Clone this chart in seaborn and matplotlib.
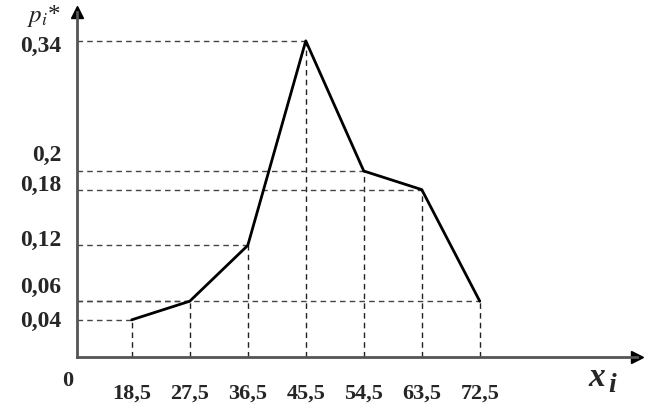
import numpy as np
import pandas as pd
import seaborn as sns
import matplotlib.pyplot as plt

# polygon of relative frequencies
x_mid = [18.5, 27.5, 36.5, 45.5, 54.5, 63.5, 72.5]
p_rel = [0.04, 0.06, 0.12, 0.34, 0.20, 0.18, 0.06]
x_labels = ["18,5", "27,5", "36,5", "45,5", "54,5", "63,5", "72,5"]
y_ticks = [0.04, 0.06, 0.12, 0.18, 0.2, 0.34]
y_labels = ["0,04", "0,06", "0,12", "0,18", "0,2", "0,34"]
# small vertical nudges (points) so the close labels don't collide
y_nudge = [-1, 10, 3.5, 3, 11.5, -4]

sns.set_style("white")
plt.rcParams['font.family'] = ['Liberation Serif', 'DejaVu Serif']
plt.rcParams['mathtext.fontset'] = 'stix'

df = pd.DataFrame({"x": x_mid, "p": p_rel})

fig = plt.figure(figsize=(6.46, 4.12), dpi=100)
ax = fig.add_axes([77 / 646, (412 - 357) / 412, (637 - 77) / 646, (357 - 12) / 412])

x0, x1 = 10, 96.9
ax.set_xlim(x0, x1)
ax.set_ylim(0, 0.371)

# dashed guide lines
ax.vlines(df["x"], 0, df["p"], colors="#222222", linestyles=(0, (4, 3)), linewidth=1.0)
ax.hlines(df["p"], x0, df["x"], colors="#444444", linestyles=(0, (4, 3)), linewidth=1.0)

sns.lineplot(data=df, x="x", y="p", color="black", linewidth=2.0, ax=ax, sort=False)

for s in ["top", "right"]:
    ax.spines[s].set_visible(False)
for s in ["left", "bottom"]:
    ax.spines[s].set_color("#555555")
    ax.spines[s].set_linewidth(2.0)

# axis arrows
ax.plot(1, 0, ">", color="black", markersize=9, transform=ax.transAxes, clip_on=False)
ax.plot(0, 1, "^", color="black", markersize=9, transform=ax.transAxes, clip_on=False)

ax.set_xticks(x_mid)
ax.set_xticklabels(x_labels, fontsize=16, fontweight="bold")
ax.tick_params(axis="x", length=13, width=1.2, color="#666666", pad=6, direction="out")
ax.set_yticks([])
for yv, lab, dy in zip(y_ticks, y_labels, y_nudge):
    ax.annotate(lab, xy=(0, yv), xycoords=("axes fraction", "data"),
                xytext=(-11, dy), textcoords="offset points",
                ha="right", va="center", fontsize=17, fontweight="bold")
ax.set_xlabel("")
ax.set_ylabel("")

fig.text(68 / 646, 1 - 381 / 412, "0", fontsize=16, fontweight="bold", ha="center", va="center")
fig.text(44 / 646, 1 - 16 / 412, r"$p_i$*", fontsize=18, ha="center", va="center", color="#222222")
fig.text(597 / 646, 1 - 378 / 412, "x", fontsize=24, fontweight="bold", fontstyle="italic",
         ha="center", va="center")
fig.text(612 / 646, 1 - 386 / 412, "i", fontsize=20, fontweight="bold", fontstyle="italic",
         ha="center", va="center")

fig.savefig("out.png", dpi=100)
